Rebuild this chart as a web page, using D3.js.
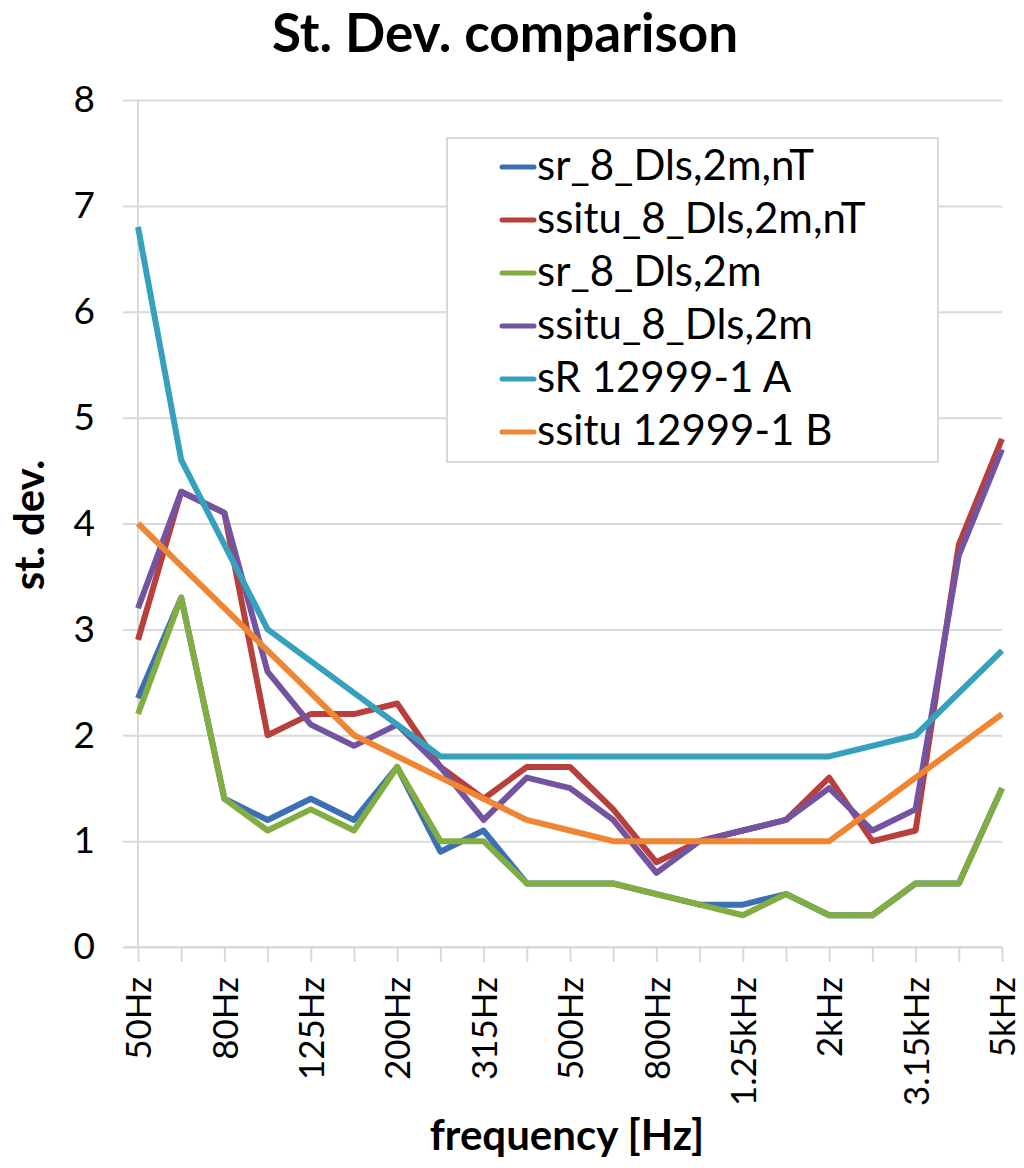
<!DOCTYPE html>
<html lang="en">
<head>
  <meta charset="UTF-8">
  <title>St. Dev. comparison</title>
  <script src="https://d3js.org/d3.v7.min.js"></script>
  <style>
    body { margin: 0; background: #fff; }
    svg text { font-family: Lato, "Open Sans", sans-serif; fill: #000; }
  </style>
</head>
<body>
  <svg id="chart" width="1024" height="1168"></svg>
  <script>
    // third-octave bands, 50Hz .. 5kHz
    const bands = ["50Hz", "63Hz", "80Hz", "100Hz", "125Hz", "160Hz", "200Hz", "250Hz", "315Hz", "400Hz",
      "500Hz", "630Hz", "800Hz", "1kHz", "1.25kHz", "1.6kHz", "2kHz", "2.5kHz", "3.15kHz", "4kHz", "5kHz"];
    const shownBands = ["50Hz", "80Hz", "125Hz", "200Hz", "315Hz", "500Hz", "800Hz", "1.25kHz", "2kHz", "3.15kHz", "5kHz"];
    const yTicks = [0, 1, 2, 3, 4, 5, 6, 7, 8];

    const seriesNames = ["sr_8_Dls,2m,nT", "ssitu_8_Dls,2m,nT", "sr_8_Dls,2m", "ssitu_8_Dls,2m", "sR 12999-1 A", "ssitu 12999-1 B"];
    const seriesColors = ["#3d6fb3", "#b73f3c", "#82ad42", "#7454a0", "#35a1bd", "#ef8633"];

    const srNT      = [2.35, 3.3, 1.4, 1.2, 1.4, 1.2, 1.7, 0.9, 1.1, 0.6, 0.6, 0.6, 0.5, 0.4, 0.4, 0.5, 0.3, 0.3, 0.6, 0.6, 1.5];
    const ssituNT   = [2.9, 4.3, 4.1, 2.0, 2.2, 2.2, 2.3, 1.7, 1.4, 1.7, 1.7, 1.3, 0.8, 1.0, 1.1, 1.2, 1.6, 1.0, 1.1, 3.8, 4.8];
    const sr        = [2.2, 3.3, 1.4, 1.1, 1.3, 1.1, 1.7, 1.0, 1.0, 0.6, 0.6, 0.6, 0.5, 0.4, 0.3, 0.5, 0.3, 0.3, 0.6, 0.6, 1.5];
    const ssitu     = [3.2, 4.3, 4.1, 2.6, 2.1, 1.9, 2.1, 1.7, 1.2, 1.6, 1.5, 1.2, 0.7, 1.0, 1.1, 1.2, 1.5, 1.1, 1.3, 3.7, 4.7];
    const sR12999A  = [6.8, 4.6, 3.8, 3.0, 2.7, 2.4, 2.1, 1.8, 1.8, 1.8, 1.8, 1.8, 1.8, 1.8, 1.8, 1.8, 1.8, 1.9, 2.0, 2.4, 2.8];
    const ssitu12999B = [4.0, 3.6, 3.2, 2.8, 2.4, 2.0, 1.8, 1.6, 1.4, 1.2, 1.1, 1.0, 1.0, 1.0, 1.0, 1.0, 1.0, 1.3, 1.6, 1.9, 2.2];

    const seriesValues = [srNT, ssituNT, sr, ssitu, sR12999A, ssitu12999B];

    const svg = d3.select("#chart");
    const plotLeft = 138, plotRight = 1002, plotTop = 100, plotBottom = 947;
    const gridColor = "#d9d9d9";

    const x = d3.scalePoint().domain(bands).range([plotLeft, plotRight]);
    const y = d3.scaleLinear().domain([0, 8]).range([plotBottom, plotTop]);

    // title
    svg.append("text")
      .attr("x", 505).attr("y", 52)
      .attr("text-anchor", "middle")
      .style("font-size", "53px").style("font-weight", "bold")
      .text("St. Dev. comparison");

    // horizontal gridlines + y labels
    const yAxis = d3.axisLeft(y).tickValues(yTicks).tickSize(-(plotRight - plotLeft + 15)).tickPadding(28).tickFormat(d3.format("d"));
    const yg = svg.append("g").attr("transform", `translate(${plotLeft - 15},0)`).call(yAxis);
    yg.select(".domain").remove();
    yg.selectAll(".tick line").attr("stroke", gridColor).attr("stroke-width", 2);
    yg.selectAll(".tick text").style("font-size", "37px");

    // y axis line
    svg.append("line")
      .attr("x1", plotLeft).attr("x2", plotLeft).attr("y1", plotTop).attr("y2", plotBottom)
      .attr("stroke", gridColor).attr("stroke-width", 2);

    // x axis
    const xAxis = d3.axisBottom(x).tickSize(15).tickFormat(d => shownBands.includes(d) ? d : "");
    const xg = svg.append("g").attr("transform", `translate(0,${plotBottom})`).call(xAxis);
    xg.select(".domain").attr("d", `M${plotLeft - 15},0H${plotRight}`).attr("stroke", gridColor).attr("stroke-width", 2);
    xg.selectAll(".tick line").attr("stroke", gridColor).attr("stroke-width", 2);
    xg.selectAll(".tick text")
      .style("font-size", "35px")
      .attr("text-anchor", "end")
      .attr("transform", "rotate(-90)")
      .attr("x", -30).attr("y", 0).attr("dy", "0.36em");

    // axis titles
    svg.append("text")
      .attr("transform", "translate(44,525) rotate(-90)")
      .attr("text-anchor", "middle")
      .style("font-size", "42px").style("font-weight", "bold")
      .text("st. dev.");

    svg.append("text")
      .attr("x", 567).attr("y", 1150)
      .attr("text-anchor", "middle")
      .style("font-size", "42px").style("font-weight", "bold")
      .text("frequency [Hz]");

    // lines
    const line = d3.line().x((d, i) => x(bands[i])).y(d => y(d));
    seriesValues.forEach((vals, k) => {
      svg.append("path")
        .datum(vals)
        .attr("fill", "none")
        .attr("stroke", seriesColors[k])
        .attr("stroke-width", 6)
        .attr("stroke-linejoin", "round")
        .attr("d", line);
    });

    // legend
    const legend = svg.append("g");
    legend.append("rect")
      .attr("x", 447).attr("y", 138).attr("width", 491).attr("height", 324)
      .attr("fill", "#fff").attr("stroke", gridColor).attr("stroke-width", 2);
    seriesNames.forEach((name, k) => {
      const yy = 180 + k * 53;
      legend.append("line")
        .attr("x1", 502).attr("x2", 534).attr("y1", yy - 13).attr("y2", yy - 13)
        .attr("stroke", seriesColors[k]).attr("stroke-width", 5).attr("stroke-linecap", "round");
      legend.append("text")
        .attr("x", 537).attr("y", yy)
        .style("font-size", "42px")
        .text(name);
    });
  </script>
</body>
</html>
